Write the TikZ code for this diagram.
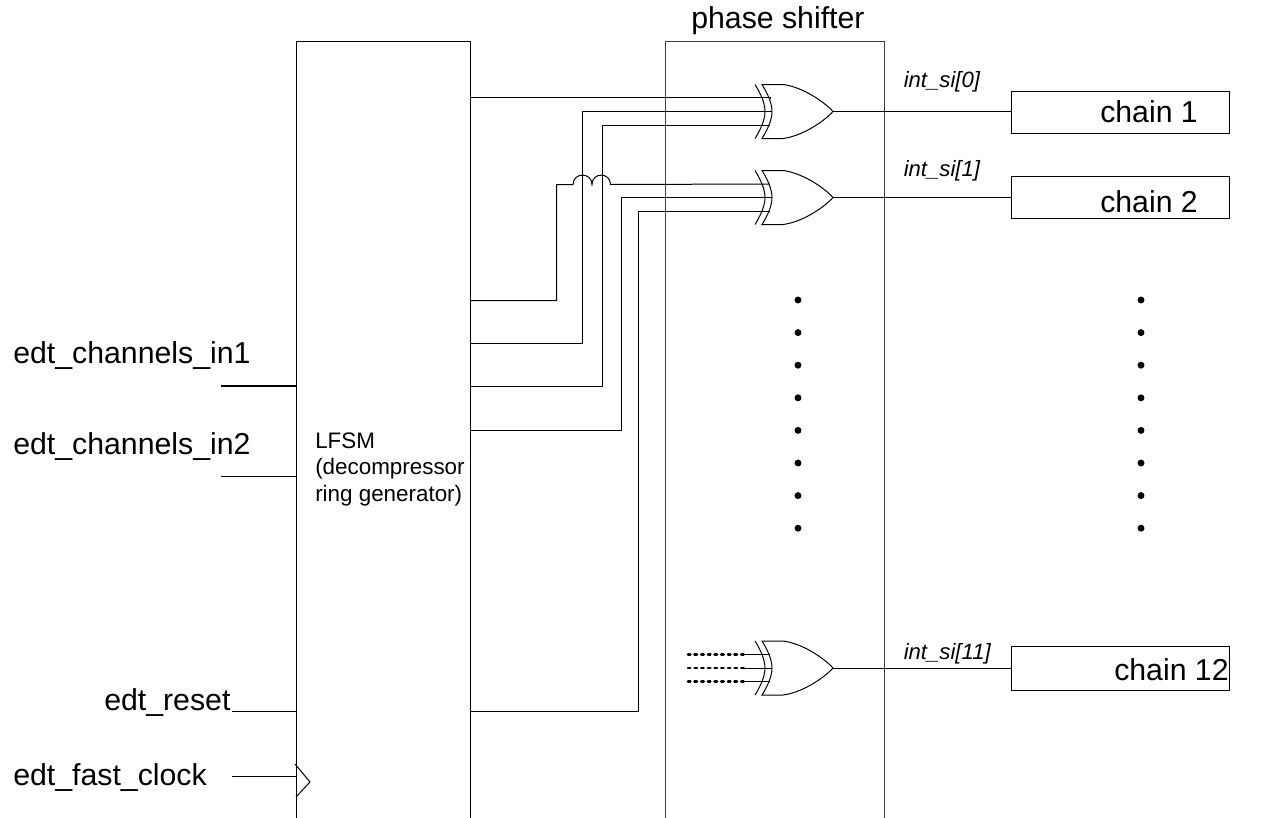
\documentclass[tikz,border=0pt]{standalone}
\usepackage{fontspec}
\setmainfont{Liberation Sans}
\tikzset{
  wire/.style={line width=0.75pt,black},
  heavy/.style={line width=1.5pt,black},
  lab/.style={inner sep=0pt,anchor=base west,font=\fontsize{22.7}{26}\selectfont},
  sig/.style={inner sep=0pt,anchor=base west,font=\fontsize{16.6}{20}\selectfont\itshape},
  chainbox/.style={draw,line width=0.75pt,anchor=north west,minimum width=163.5pt,minimum height=32pt,inner sep=0pt},
  stub/.style={line width=2.2pt,line cap=round,dash pattern=on 1.7pt off 3.3pt},
  bigdot/.style={circle,fill=black,inner sep=0pt,minimum size=5.2pt},
  xorgate/.pic={
    \draw[wire] (-7,-27) .. controls (-2,-19) and (3,-9) .. (3,0) .. controls (3,9) and (-2,19) .. (-7,27);
    \draw[wire] (0,-27) -- (21,-27) .. controls (38,-25) and (60,-12) .. (71,0) .. controls (60,12) and (38,25) .. (21,27) -- (0,27)
       .. controls (5,19) and (10,9) .. (10,0) .. controls (10,-9) and (5,-19) .. (0,-27) -- cycle;
    \coordinate (-a) at (8,-13.5);
    \coordinate (-b) at (10,0);
    \coordinate (-c) at (8,13.5);
    \coordinate (-out) at (71,0);
  }
}
\begin{document}
\begin{tikzpicture}[x=0.75pt,y=-0.75pt]
\useasboundingbox (0,0) rectangle (1272,818);
% blocks (open at the bottom edge)
\coordinate (lb) at (296,818); \coordinate (lt) at (296,41.5);
\coordinate (rt) at (470,41.5);  \coordinate (rb) at (470,818);
\draw[wire] (lb) -- (lt) -- (rt) -- (rb);
\coordinate (pb) at (665,818); \coordinate (pt) at (665,41.5);
\coordinate (qt) at (884,41.5);  \coordinate (qb) at (884,818);
\draw[wire,black!75] (pb) -- (pt) -- (qt) -- (qb);
\node[lab] (phase) at (691,28.5) {phase shifter};
\node[inner sep=0pt,anchor=base west,align=left,font=\fontsize{16.8}{19.6}\selectfont] (lfsm) at (315,501) {LFSM\\(decompressor\\ring generator)};
% gates
\pic (g1) at (762,111.5) {xorgate};
\pic (g2) at (762,197.5) {xorgate};
\pic (g3) at (762,668) {xorgate};
% chains
\node[chainbox,minimum height=31.8pt] (c1) at (1011,91) {};
\node[chainbox,minimum height=32.2pt] (c2) at (1011,175.5) {};
\node[chainbox,minimum height=33pt] (c3) at (1011,646) {};
\node[lab] (c1t) at (1100,122.5) {chain 1};
\node[lab] (c2t) at (1100,212) {chain 2};
\node[lab] (c3t) at (1114,680) {chain 12};
\draw[wire] (g1-out) -- (c1.west |- g1-out);
\draw[wire] (g2-out) -- (c2.west |- g2-out);
\draw[wire] (g3-out) -- (c3.west |- g3-out);
\node[sig] (s0) at (903.5,87) {int\_si[0]};
\node[sig] (s1) at (903.5,176.5) {int\_si[1]};
\node[sig] (s2) at (903.5,659) {int\_si[11]};
% wires from LFSM
\coordinate (o1) at (470,97.5);
\coordinate (o2) at (470,300.5);
\coordinate (o3) at (470,343.5);
\coordinate (o4) at (470,386.5);
\coordinate (o5) at (470,430.5);
\coordinate (o6) at (470,711.5);
\coordinate (v2) at (556.5,0);
\coordinate (v3) at (582,0);
\coordinate (v4) at (602,0);
\coordinate (v5) at (621.5,0);
\coordinate (v6) at (638.5,0);
\coordinate (h1) at (573,184.5);
\draw[wire] (o1) -- (g1-a |- o1) -- (g1-a);
\draw[wire] (o3) -| (v3 |- g1-b) -- (g1-b);
\draw[wire] (o4) -| (v4 |- g1-c) -- (g1-c);
\draw[wire] (o2) -| (v2 |- h1) -- (h1)
  .. controls (573,172) and (592,172) .. (592,184.5)
  .. controls (592,172) and (610.5,172) .. (610.5,184.5) -- (g2-a);
\draw[wire] (o5) -| (v5 |- g2-b) -- (g2-b);
\draw[wire] (o6) -| (v6 |- g2-c) -- (g2-c);
% dotted stubs of last gate
\coordinate (d1) at (688,654.5); \coordinate (d2) at (688,668); \coordinate (d3) at (688,681.5);
\coordinate (e1) at (744,654.5); \coordinate (e2) at (744,668); \coordinate (e3) at (744,681.5);
\draw[stub] (d1) -- (e1);
\draw[stub] (d2) -- (e2);
\draw[stub] (d3) -- (e3);
\draw[wire] (e1) -- (g3-a);
\draw[wire] (e2) -- (g3-b);
\draw[wire] (e3) -- (g3-c);
% dots
\foreach \i in {0,...,7} {
  \node[bigdot] (da\i) at (798,300+32.6*\i) {};
  \node[bigdot] (db\i) at (1141,300+32.6*\i) {};
}
% inputs
\node[lab] (i1) at (13,363) {edt\_channels\_in1};
\node[lab] (i2) at (13,454) {edt\_channels\_in2};
\node[lab] (i3) at (104,710) {edt\_reset};
\node[lab] (i4) at (13,785) {edt\_fast\_clock};
\coordinate (a1) at (221,385.5); \coordinate (a2) at (221,476.5);
\coordinate (a3) at (232,711.5); \coordinate (a4) at (232,776.5);
\draw[heavy] (a1) -- (lt |- a1);
\draw[wire] (a2) -- (lt |- a2);
\draw[wire] (a3) -- (lt |- a3);
\draw[wire] (a4) -- (lt |- a4);
\coordinate (t1) at (295,764); \coordinate (t2) at (310,782); \coordinate (t3) at (296,797);
\draw[wire] (t1) -- (t2) -- (t3);
\end{tikzpicture}
\end{document}
